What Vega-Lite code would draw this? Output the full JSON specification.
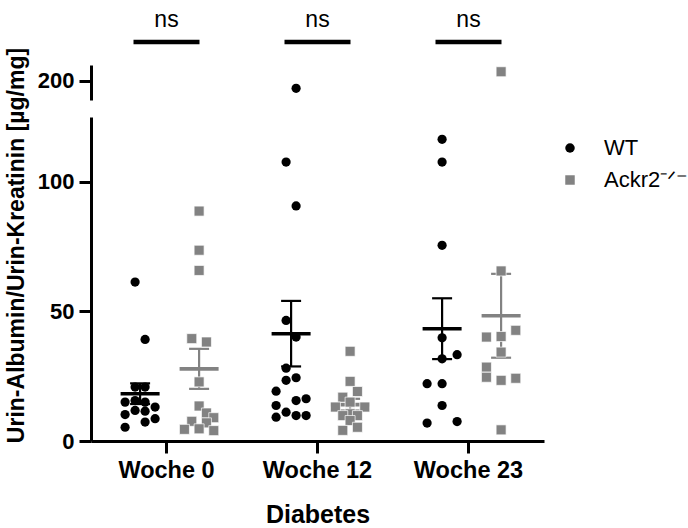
{
  "$schema": "https://vega.github.io/schema/vega-lite/v6.json",
  "background": "white",
  "padding": {"left": 5, "top": 8, "right": 0, "bottom": 0},
  "bounds": "flush",
  "config": {
    "font": "Liberation Sans",
    "view": {"stroke": null},
    "axis": {
      "domainColor": "black",
      "domainWidth": 3,
      "tickColor": "black",
      "tickWidth": 3,
      "tickSize": 12,
      "labelColor": "black",
      "labelFont": "Liberation Sans",
      "labelFontWeight": "bold",
      "labelFontSize": 22,
      "labelPadding": 5,
      "titleColor": "black",
      "titleFont": "Liberation Sans",
      "titleFontWeight": "bold",
      "grid": false
    },
    "legend": {
      "orient": "none",
      "legendX": 468,
      "legendY": 72,
      "labelFont": "Liberation Sans",
      "labelFontSize": 22,
      "labelColor": "black",
      "labelLimit": 0,
      "symbolSize": 90,
      "symbolStrokeWidth": 0,
      "symbolOpacity": 1,
      "rowPadding": 10,
      "labelOffset": 23
    }
  },
  "datasets": {
    "urine": [
      {"week": "Woche 0", "group": "WT", "value": 61.3, "lane": -0.5},
      {"week": "Woche 0", "group": "WT", "value": 39.2, "lane": 0.5},
      {"week": "Woche 0", "group": "WT", "value": 20.8, "lane": -0.5},
      {"week": "Woche 0", "group": "WT", "value": 20.8, "lane": 0.5},
      {"week": "Woche 0", "group": "WT", "value": 15.0, "lane": -1.5},
      {"week": "Woche 0", "group": "WT", "value": 15.6, "lane": -0.5},
      {"week": "Woche 0", "group": "WT", "value": 15.0, "lane": 0.5},
      {"week": "Woche 0", "group": "WT", "value": 13.1, "lane": 1.5},
      {"week": "Woche 0", "group": "WT", "value": 10.2, "lane": -1.5},
      {"week": "Woche 0", "group": "WT", "value": 11.8, "lane": -0.5},
      {"week": "Woche 0", "group": "WT", "value": 11.5, "lane": 0.5},
      {"week": "Woche 0", "group": "WT", "value": 7.3, "lane": 0.5},
      {"week": "Woche 0", "group": "WT", "value": 8.6, "lane": 1.5},
      {"week": "Woche 0", "group": "WT", "value": 5.3, "lane": -1.5},
      {"week": "Woche 0", "group": "Ackr2", "value": 88.7, "lane": 0},
      {"week": "Woche 0", "group": "Ackr2", "value": 73.6, "lane": 0},
      {"week": "Woche 0", "group": "Ackr2", "value": 65.8, "lane": 0},
      {"week": "Woche 0", "group": "Ackr2", "value": 39.5, "lane": -1},
      {"week": "Woche 0", "group": "Ackr2", "value": 38.2, "lane": 1},
      {"week": "Woche 0", "group": "Ackr2", "value": 22.8, "lane": 0},
      {"week": "Woche 0", "group": "Ackr2", "value": 13.5, "lane": 0},
      {"week": "Woche 0", "group": "Ackr2", "value": 10.8, "lane": 1},
      {"week": "Woche 0", "group": "Ackr2", "value": 9.0, "lane": 2},
      {"week": "Woche 0", "group": "Ackr2", "value": 7.6, "lane": -1},
      {"week": "Woche 0", "group": "Ackr2", "value": 7.0, "lane": 1},
      {"week": "Woche 0", "group": "Ackr2", "value": 4.7, "lane": 0},
      {"week": "Woche 0", "group": "Ackr2", "value": 4.5, "lane": -2},
      {"week": "Woche 0", "group": "Ackr2", "value": 4.0, "lane": 2},
      {"week": "Woche 12", "group": "WT", "value": 197.0, "lane": 0.5},
      {"week": "Woche 12", "group": "WT", "value": 107.6, "lane": -0.5},
      {"week": "Woche 12", "group": "WT", "value": 90.7, "lane": 0.5},
      {"week": "Woche 12", "group": "WT", "value": 46.5, "lane": -0.5},
      {"week": "Woche 12", "group": "WT", "value": 40.1, "lane": 0.5},
      {"week": "Woche 12", "group": "WT", "value": 28.1, "lane": -0.5},
      {"week": "Woche 12", "group": "WT", "value": 23.4, "lane": -0.5},
      {"week": "Woche 12", "group": "WT", "value": 24.4, "lane": 0.5},
      {"week": "Woche 12", "group": "WT", "value": 19.2, "lane": -1.5},
      {"week": "Woche 12", "group": "WT", "value": 13.7, "lane": -1.5},
      {"week": "Woche 12", "group": "WT", "value": 15.6, "lane": 0.5},
      {"week": "Woche 12", "group": "WT", "value": 16.3, "lane": 1.5},
      {"week": "Woche 12", "group": "WT", "value": 11.1, "lane": -0.5},
      {"week": "Woche 12", "group": "WT", "value": 9.2, "lane": -1.5},
      {"week": "Woche 12", "group": "WT", "value": 9.8, "lane": 0.5},
      {"week": "Woche 12", "group": "WT", "value": 9.8, "lane": 1.5},
      {"week": "Woche 12", "group": "Ackr2", "value": 34.6, "lane": 0},
      {"week": "Woche 12", "group": "Ackr2", "value": 23.0, "lane": 0},
      {"week": "Woche 12", "group": "Ackr2", "value": 19.1, "lane": 1},
      {"week": "Woche 12", "group": "Ackr2", "value": 16.9, "lane": -1},
      {"week": "Woche 12", "group": "Ackr2", "value": 15.0, "lane": 0},
      {"week": "Woche 12", "group": "Ackr2", "value": 13.1, "lane": -2},
      {"week": "Woche 12", "group": "Ackr2", "value": 13.1, "lane": 2},
      {"week": "Woche 12", "group": "Ackr2", "value": 10.5, "lane": 0},
      {"week": "Woche 12", "group": "Ackr2", "value": 9.8, "lane": 1},
      {"week": "Woche 12", "group": "Ackr2", "value": 9.8, "lane": -1},
      {"week": "Woche 12", "group": "Ackr2", "value": 7.9, "lane": 0},
      {"week": "Woche 12", "group": "Ackr2", "value": 5.3, "lane": 1},
      {"week": "Woche 12", "group": "Ackr2", "value": 4.1, "lane": -1},
      {"week": "Woche 23", "group": "WT", "value": 116.4, "lane": 0},
      {"week": "Woche 23", "group": "WT", "value": 107.6, "lane": 0},
      {"week": "Woche 23", "group": "WT", "value": 75.5, "lane": 0},
      {"week": "Woche 23", "group": "WT", "value": 39.8, "lane": 0},
      {"week": "Woche 23", "group": "WT", "value": 33.3, "lane": 1.5},
      {"week": "Woche 23", "group": "WT", "value": 31.7, "lane": 0},
      {"week": "Woche 23", "group": "WT", "value": 22.1, "lane": -1.5},
      {"week": "Woche 23", "group": "WT", "value": 22.1, "lane": 0},
      {"week": "Woche 23", "group": "WT", "value": 13.7, "lane": 0},
      {"week": "Woche 23", "group": "WT", "value": 6.9, "lane": -1.5},
      {"week": "Woche 23", "group": "WT", "value": 7.5, "lane": 1.5},
      {"week": "Woche 23", "group": "Ackr2", "value": 203.4, "lane": 0},
      {"week": "Woche 23", "group": "Ackr2", "value": 65.6, "lane": 0},
      {"week": "Woche 23", "group": "Ackr2", "value": 42.7, "lane": 2},
      {"week": "Woche 23", "group": "Ackr2", "value": 40.3, "lane": 0},
      {"week": "Woche 23", "group": "Ackr2", "value": 40.1, "lane": -2},
      {"week": "Woche 23", "group": "Ackr2", "value": 34.3, "lane": 0},
      {"week": "Woche 23", "group": "Ackr2", "value": 28.5, "lane": -2},
      {"week": "Woche 23", "group": "Ackr2", "value": 24.6, "lane": -2},
      {"week": "Woche 23", "group": "Ackr2", "value": 23.4, "lane": 0},
      {"week": "Woche 23", "group": "Ackr2", "value": 24.2, "lane": 2},
      {"week": "Woche 23", "group": "Ackr2", "value": 4.3, "lane": 0}
    ],
    "tests": [
      {"week": "Woche 0", "label": "ns"},
      {"week": "Woche 12", "label": "ns"},
      {"week": "Woche 23", "label": "ns"}
    ]
  },
  "spacing": 17,
  "resolve": {"scale": {"xOffset": "independent"}},
  "vconcat": [
    {
      "width": 453,
      "height": 35,
      "resolve": {"scale": {"xOffset": "independent"}},
      "layer": [
        {
          "data": {"name": "urine"},
          "transform": [{"filter": "datum.value > 125 && datum.group == 'WT'"}],
          "mark": {"type": "point", "filled": true, "opacity": 1, "size": 85},
          "encoding": {
            "x": {"field": "week", "type": "nominal", "axis": null,
                  "scale": {"type": "band", "paddingInner": 0, "paddingOuter": -0.05, "domain": ["Woche 0", "Woche 12", "Woche 23"]}},
            "xOffset": {"field": "lane", "type": "quantitative",
                        "scale": {"domain": [-3, 3], "range": [19.1, 79.1], "nice": false, "zero": false}},
            "y": {"field": "value", "type": "quantitative", "title": null,
                  "scale": {"domain": [192.5, 206], "nice": false, "zero": false},
                  "axis": {"values": [200], "title": null}},
            "color": {"field": "group", "type": "nominal", "title": null,
                      "scale": {"domain": ["WT", "Ackr2"], "range": ["#000000", "#828282"]},
                      "legend": {"labelExpr": "datum.label == 'Ackr2' ? 'Ackr2⁻ᐟ⁻' : datum.label"}},
            "shape": {"field": "group", "type": "nominal", "title": null,
                      "scale": {"domain": ["WT", "Ackr2"], "range": ["circle", "square"]},
                      "legend": {"labelExpr": "datum.label == 'Ackr2' ? 'Ackr2⁻ᐟ⁻' : datum.label"}}
          }
        },
        {
          "data": {"name": "urine"},
          "transform": [{"filter": "datum.value > 125 && datum.group == 'Ackr2'"}],
          "mark": {"type": "point", "filled": true, "opacity": 1, "size": 100, "stroke": "white", "strokeWidth": 0.7},
          "encoding": {
            "x": {"field": "week", "type": "nominal"},
            "xOffset": {"field": "lane", "type": "quantitative",
                        "scale": {"domain": [-3, 3], "range": [86.1, 130.1], "nice": false, "zero": false}},
            "y": {"field": "value", "type": "quantitative", "title": null},
            "color": {"field": "group", "type": "nominal", "title": null},
            "shape": {"field": "group", "type": "nominal", "title": null}
          }
        },
        {
          "data": {"name": "tests"},
          "mark": {"type": "tick", "orient": "horizontal", "size": 66, "thickness": 4.5, "color": "black", "opacity": 1},
          "encoding": {
            "x": {"field": "week", "type": "nominal"},
            "y": {"datum": 214.9, "type": "quantitative"}
          }
        },
        {
          "data": {"name": "tests"},
          "mark": {"type": "text", "fontSize": 23, "font": "Liberation Sans", "baseline": "middle", "color": "black"},
          "encoding": {
            "x": {"field": "week", "type": "nominal"},
            "y": {"datum": 223.4, "type": "quantitative"},
            "text": {"field": "label"}
          }
        }
      ]
    },
    {
      "width": 453,
      "height": 324,
      "data": {"name": "urine"},
      "resolve": {"scale": {"xOffset": "independent"}},
      "layer": [
        {
          "mark": {"type": "errorbar", "extent": "stderr",
                   "ticks": {"size": 20, "thickness": 2.2, "opacity": 1},
                   "rule": {"strokeWidth": 2.2, "opacity": 1}},
          "encoding": {
            "x": {"field": "week", "type": "nominal", "title": "Diabetes",
                  "scale": {"type": "band", "paddingInner": 0, "paddingOuter": -0.05, "domain": ["Woche 0", "Woche 12", "Woche 23"]},
                  "axis": {"labelAngle": 0, "labelFontSize": 23.5, "titleFontSize": 25, "titlePadding": 21}},
            "xOffset": {"field": "group", "type": "nominal",
                        "scale": {"type": "point", "domain": ["WT", "Ackr2"], "range": [49.1, 108.1], "padding": 0}},
            "y": {"field": "value", "type": "quantitative", "title": "Urin-Albumin/Urin-Kreatinin [µg/mg]",
                  "scale": {"domain": [0, 125], "nice": false},
                  "axis": {"values": [0, 50, 100], "titleFontSize": 23, "titlePadding": 9, "titleY": 128}},
            "color": {"field": "group", "type": "nominal", "title": null}
          }
        },
        {
          "mark": {"type": "tick", "orient": "horizontal", "size": 39, "thickness": 3.6, "opacity": 1},
          "encoding": {
            "x": {"field": "week", "type": "nominal", "title": "Diabetes"},
            "xOffset": {"field": "group", "type": "nominal",
                        "scale": {"type": "point", "domain": ["WT", "Ackr2"], "range": [49.1, 108.1], "padding": 0}},
            "y": {"aggregate": "mean", "field": "value", "type": "quantitative", "title": "Urin-Albumin/Urin-Kreatinin [µg/mg]"},
            "color": {"field": "group", "type": "nominal", "title": null}
          }
        },
        {
          "transform": [{"filter": "datum.value <= 125 && datum.group == 'WT'"}],
          "mark": {"type": "point", "filled": true, "opacity": 1, "size": 85},
          "encoding": {
            "x": {"field": "week", "type": "nominal", "title": "Diabetes"},
            "xOffset": {"field": "lane", "type": "quantitative",
                        "scale": {"domain": [-3, 3], "range": [19.1, 79.1], "nice": false, "zero": false}},
            "y": {"field": "value", "type": "quantitative", "title": "Urin-Albumin/Urin-Kreatinin [µg/mg]"},
            "color": {"field": "group", "type": "nominal", "title": null},
            "shape": {"field": "group", "type": "nominal", "title": null}
          }
        },
        {
          "transform": [{"filter": "datum.value <= 125 && datum.group == 'Ackr2'"}],
          "mark": {"type": "point", "filled": true, "opacity": 1, "size": 100, "stroke": "white", "strokeWidth": 0.7},
          "encoding": {
            "x": {"field": "week", "type": "nominal", "title": "Diabetes"},
            "xOffset": {"field": "lane", "type": "quantitative",
                        "scale": {"domain": [-3, 3], "range": [86.1, 130.1], "nice": false, "zero": false}},
            "y": {"field": "value", "type": "quantitative", "title": "Urin-Albumin/Urin-Kreatinin [µg/mg]"},
            "color": {"field": "group", "type": "nominal", "title": null},
            "shape": {"field": "group", "type": "nominal", "title": null}
          }
        }
      ]
    }
  ]
}
